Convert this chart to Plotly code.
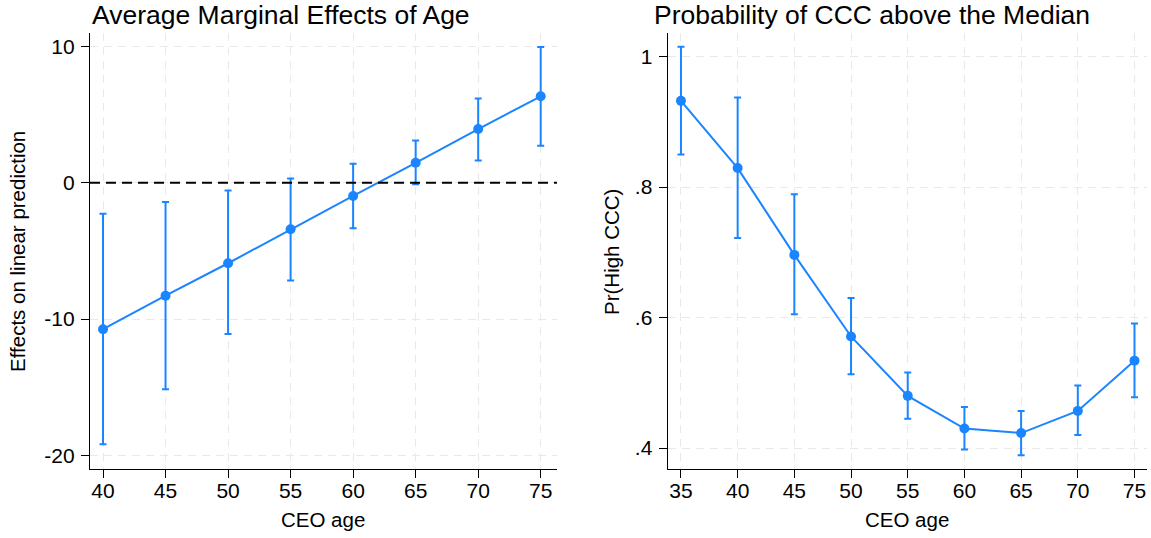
import plotly.graph_objects as go

# Left panel: average marginal effects of age
ages_left = [40, 45, 50, 55, 60, 65, 70, 75]
ame_est = [-10.74, -8.28, -5.90, -3.40, -0.96, 1.47, 3.95, 6.35]
ame_hi = [-2.26, -1.40, -0.57, 0.32, 1.40, 3.11, 6.20, 9.98]
ame_lo = [-19.19, -15.15, -11.10, -7.16, -3.33, -0.10, 1.64, 2.72]
left_yticks = [-20, -10, 0, 10]
left_yticklabels = ["-20", "-10", "0", "10"]

# Right panel: probability of CCC above the median
ages_right = [35, 40, 45, 50, 55, 60, 65, 70, 75]
pr_est = [0.932, 0.829, 0.696, 0.571, 0.480, 0.430, 0.423, 0.457, 0.534]
pr_hi = [1.015, 0.937, 0.789, 0.630, 0.516, 0.463, 0.457, 0.496, 0.591]
pr_lo = [0.850, 0.722, 0.605, 0.513, 0.445, 0.398, 0.389, 0.420, 0.478]
right_yticks = [0.4, 0.6, 0.8, 1.0]
right_yticklabels = [".4", ".6", ".8", "1"]

BLUE = "#1A85FF"
FONT = "Liberation Sans, Arial, Helvetica, sans-serif"

fig = go.Figure()

fig.add_trace(go.Scatter(
    x=ages_left, y=ame_est, mode="lines+markers",
    line=dict(color=BLUE, width=2),
    marker=dict(color=BLUE, size=10),
    error_y=dict(type="data", symmetric=False,
                 array=[h - v for h, v in zip(ame_hi, ame_est)],
                 arrayminus=[v - l for v, l in zip(ame_est, ame_lo)],
                 color=BLUE, thickness=2, width=3.5),
    xaxis="x", yaxis="y", showlegend=False,
))

fig.add_trace(go.Scatter(
    x=ages_right, y=pr_est, mode="lines+markers",
    line=dict(color=BLUE, width=2),
    marker=dict(color=BLUE, size=10),
    error_y=dict(type="data", symmetric=False,
                 array=[h - v for h, v in zip(pr_hi, pr_est)],
                 arrayminus=[v - l for v, l in zip(pr_est, pr_lo)],
                 color=BLUE, thickness=2, width=3.5),
    xaxis="x2", yaxis="y2", showlegend=False,
))

axis_common = dict(
    showline=True, linecolor="black", linewidth=1.3,
    ticks="outside", ticklen=8, tickcolor="black", tickwidth=1.3,
    showgrid=True, gridcolor="#E9E9E9", gridwidth=1.3, griddash="8px,6px",
    zeroline=False, tickfont=dict(family=FONT, size=21, color="black"),
    automargin=False, mirror=False,
)

fig.update_layout(
    width=1151, height=538,
    margin=dict(l=0, r=0, t=0, b=0),
    paper_bgcolor="white", plot_bgcolor="white",
    font=dict(family=FONT, color="black"),
    xaxis=dict(domain=[0.0782, 0.4839], range=[38.96, 76.3],
               tickvals=ages_left, anchor="y", ticklabelstandoff=-5, **axis_common),
    yaxis=dict(domain=[0.1283, 0.9387], range=[-21.0, 11.0],
               tickvals=left_yticks, ticktext=left_yticklabels,
               anchor="x", ticklabelstandoff=2, **axis_common),
    xaxis2=dict(domain=[0.5801, 0.9965], range=[33.83, 76.1],
                tickvals=ages_right, anchor="y2", ticklabelstandoff=-5, **axis_common),
    yaxis2=dict(domain=[0.1283, 0.9387], range=[0.368, 1.036],
                tickvals=right_yticks, ticktext=right_yticklabels,
                anchor="x2", ticklabelstandoff=2, **axis_common),
)

# dashed reference line at zero in left panel
fig.add_shape(type="line", xref="x domain", yref="y", x0=0, x1=1, y0=0, y1=0,
              line=dict(color="black", width=2, dash="10px,6px"), layer="above")

ann = [
    dict(text="Average Marginal Effects of Age", x=0.244, y=0.9721, size=26.5),
    dict(text="Probability of CCC above the Median", x=0.7577, y=0.9721, size=26.5),
    dict(text="CEO age", x=0.2806, y=0.0335, size=20.5),
    dict(text="CEO age", x=0.788, y=0.0335, size=20.5),
]
for a in ann:
    fig.add_annotation(text=a["text"], x=a["x"], y=a["y"], xref="paper", yref="paper",
                       showarrow=False, xanchor="center", yanchor="middle",
                       font=dict(family=FONT, size=a["size"], color="black"))

fig.add_annotation(text="Effects on linear prediction", x=0.0156, y=0.5335,
                   xref="paper", yref="paper", showarrow=False, textangle=-90,
                   xanchor="center", yanchor="middle",
                   font=dict(family=FONT, size=20.5, color="black"))
fig.add_annotation(text="Pr(High CCC)", x=0.5317, y=0.5316,
                   xref="paper", yref="paper", showarrow=False, textangle=-90,
                   xanchor="center", yanchor="middle",
                   font=dict(family=FONT, size=20.5, color="black"))

fig.write_html("out.html", config={"displayModeBar": False},
               post_script="document.body.style.margin='0';document.body.style.padding='0';")
